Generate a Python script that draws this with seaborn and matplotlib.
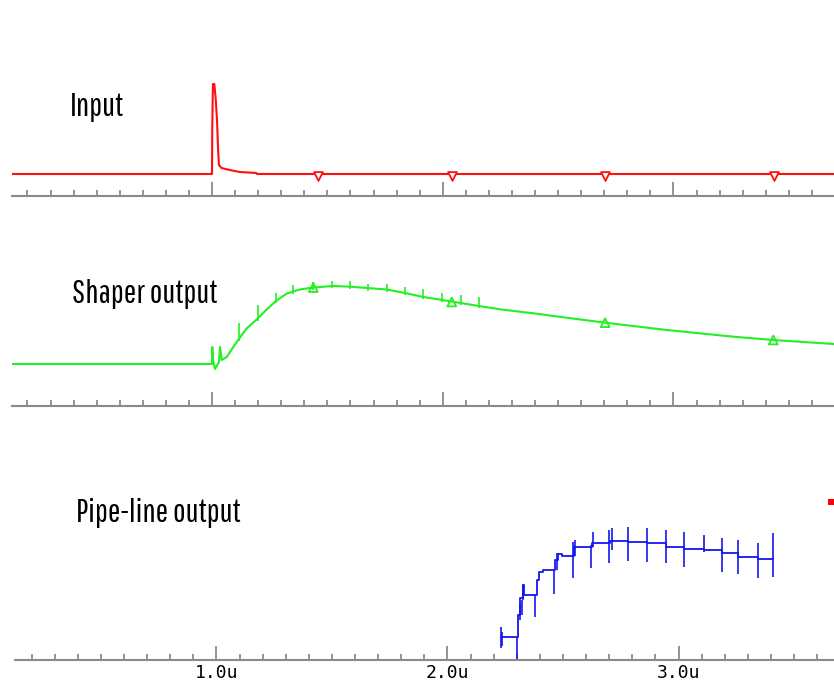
import matplotlib
matplotlib.use("Agg")
import matplotlib.pyplot as plt
import numpy as np
import pandas as pd
import seaborn as sns

# time in microseconds, amplitudes in arbitrary units
input_t = [0.133, 1.000, 1.001, 1.004, 1.010, 1.016, 1.022, 1.026, 1.030, 1.041,
           1.077, 1.120, 1.192, 1.195, 3.696]
input_v = [0, 0, 46, 90, 90, 75, 52, 26, 9, 6, 4, 2, 1, 0, 0]
input_mark_t = [1.458, 2.039, 2.704, 3.437]
input_mark_v = [-2, -2, -2, -2]

shaper_t = [0.133, 1.000, 1.001, 1.005, 1.013, 1.030, 1.035, 1.042, 1.064, 1.092,
            1.118, 1.150, 1.198, 1.237, 1.277, 1.324, 1.381, 1.439, 1.526, 1.598,
            1.671, 1.757, 1.837, 1.916, 1.998, 2.078, 2.157, 2.248, 2.393, 2.537,
            2.704, 2.971, 3.260, 3.433, 3.696]
shaper_v = [0, 0, 17, 3, -5, 2, 17, 4, 7, 17,
            25.5, 35.5, 45.5, 54.5, 63, 70.5, 74.5, 76.5, 78, 77.3,
            76, 74.5, 71, 67, 64, 61, 58, 54.7, 50.7, 46.3,
            41.3, 34, 27.3, 24, 20]
shaper_spike_t = [1.118, 1.198, 1.277, 1.352, 1.439, 1.519, 1.598, 1.678, 1.757,
                  1.837, 1.916, 1.998, 2.078, 2.157]
shaper_spike_lo = [23.5, 43.5, 61, 70, 74.5, 76, 75, 73.5, 72.5, 69, 65, 62, 59, 56]
shaper_spike_hi = [41, 59, 71.5, 79, 82, 83, 83, 80, 80, 77, 75, 71, 69, 67]
shaper_mark_t = [1.439, 2.039, 2.704, 3.433]
shaper_mark_v = [76.5, 62, 41.3, 24]

pipe_step_t = [2.232, 2.305, 2.316, 2.326, 2.333, 2.388, 2.398, 2.413, 2.466, 2.478,
               2.496, 2.547, 2.625, 2.705, 2.783, 2.865, 2.945, 3.024, 3.110, 3.187,
               3.259, 3.343, 3.410]
pipe_step_v = [23, 45, 62, 75, 65, 80, 88, 90, 100, 106,
               104, 113, 117, 119, 118, 117, 113, 111, 110, 107,
               103, 101, 101]
pipe_spike_t = [2.232, 2.236, 2.300, 2.316, 2.322, 2.327, 2.379, 2.461, 2.473, 2.542,
                2.552, 2.620, 2.631, 2.699, 2.711, 2.783, 2.865, 2.945, 3.024, 3.110,
                3.187, 3.259, 3.343, 3.410]
pipe_spike_lo = [12, 14, 0, 40, 45, 60, 43, 66, 90, 82,
                 104, 92, 113, 97, 110, 99, 98, 97, 93, 108,
                 88, 86, 82, 83]
pipe_spike_hi = [33, 28, 23, 56, 60, 76, 65, 90, 107, 118,
                 120, 115, 128, 130, 132, 133, 132, 130, 128, 125,
                 122, 120, 117, 127]
marker_t = [3.660]
marker_v = [158]

tick_labels = ["1.0u", "2.0u", "3.0u"]

sns.set_style("white")
plt.rcParams['font.family'] = ['Pathway Gothic One', 'DejaVu Sans']

fig = plt.figure(figsize=(8.34, 6.88), dpi=100)
W, H = 834, 688


def make_axes(left_px, bottom_px, top_px):
    return fig.add_axes([left_px / W, 1 - bottom_px / H, 1 - left_px / W,
                         (bottom_px - top_px) / H])


ax1 = make_axes(12, 196, 60)
ax2 = make_axes(12, 406, 215)
ax3 = make_axes(15, 660, 470)

grey = '#8a8a8a'
for ax in (ax1, ax2, ax3):
    ax.patch.set_alpha(0)
    for s in ('top', 'left', 'right'):
        ax.spines[s].set_visible(False)
    ax.spines['bottom'].set_color(grey)
    ax.spines['bottom'].set_linewidth(1.5)
    ax.set_yticks([])
    ax.set_xticks([1, 2, 3])
    ax.set_xticks(np.arange(0.2, 3.65, 0.1), minor=True)
    ax.tick_params(axis='x', which='both', bottom=True)
    ax.tick_params(axis='x', which='major', direction='in', length=10, width=1.3,
                   color=grey)
    ax.tick_params(axis='x', which='minor', direction='in', length=4, width=1.3,
                   color=grey)

ax1.set_xlim(0.133, 3.696)
ax2.set_xlim(0.133, 3.696)
ax3.set_xlim(0.128, 3.673)
ax1.set_ylim(-22, 114)
ax2.set_ylim(-42, 149)
ax3.set_ylim(0, 190)

# Input trace
sns.lineplot(x=input_t, y=input_v, ax=ax1, color='#ff1010', linewidth=1.5,
             estimator=None, sort=False)
sns.scatterplot(x=input_mark_t, y=input_mark_v, ax=ax1, marker='v', s=40,
                facecolor='white', edgecolor='#ff1010', linewidth=1.3, zorder=3)
ax1.set_xticklabels([])

# Shaper trace
green = '#22f022'
sns.lineplot(x=shaper_t, y=shaper_v, ax=ax2, color=green, linewidth=1.5,
             estimator=None, sort=False)
ax2.vlines(shaper_spike_t, shaper_spike_lo, shaper_spike_hi, color=green, linewidth=1.2)
sns.scatterplot(x=shaper_mark_t, y=shaper_mark_v, ax=ax2, marker='^', s=40,
                facecolor='none', edgecolor=green, linewidth=1.3, zorder=3)
ax2.set_xticklabels([])

# Pipe-line trace
blue = '#1515f0'
sns.lineplot(x=pipe_step_t, y=pipe_step_v, ax=ax3, color=blue, linewidth=1.3,
             estimator=None, sort=False, drawstyle='steps-post')
ax3.vlines(pipe_spike_t, pipe_spike_lo, pipe_spike_hi, color=blue, linewidth=1.2)
sns.scatterplot(x=marker_t, y=marker_v, ax=ax3, marker='s', s=20, color='#ff0000',
                linewidth=0, zorder=3, clip_on=False)
ax3.set_xticklabels(tick_labels, family='DejaVu Sans Mono', fontsize=13, color='black')
ax3.tick_params(axis='x', which='major', pad=3)

for ax in (ax1, ax2, ax3):
    ax.set_xlabel('')
    ax.set_ylabel('')
    leg = ax.get_legend()
    if leg is not None:
        leg.remove()

fig.text(70 / W, 1 - 116 / H, "Input", fontsize=24, color='black', ha='left', va='baseline')
fig.text(72 / W, 1 - 303 / H, "Shaper output", fontsize=24, color='black',
         ha='left', va='baseline')
fig.text(76 / W, 1 - 522 / H, "Pipe-line output", fontsize=24, color='black',
         ha='left', va='baseline')

fig.savefig("out.png", dpi=100, facecolor='white')
